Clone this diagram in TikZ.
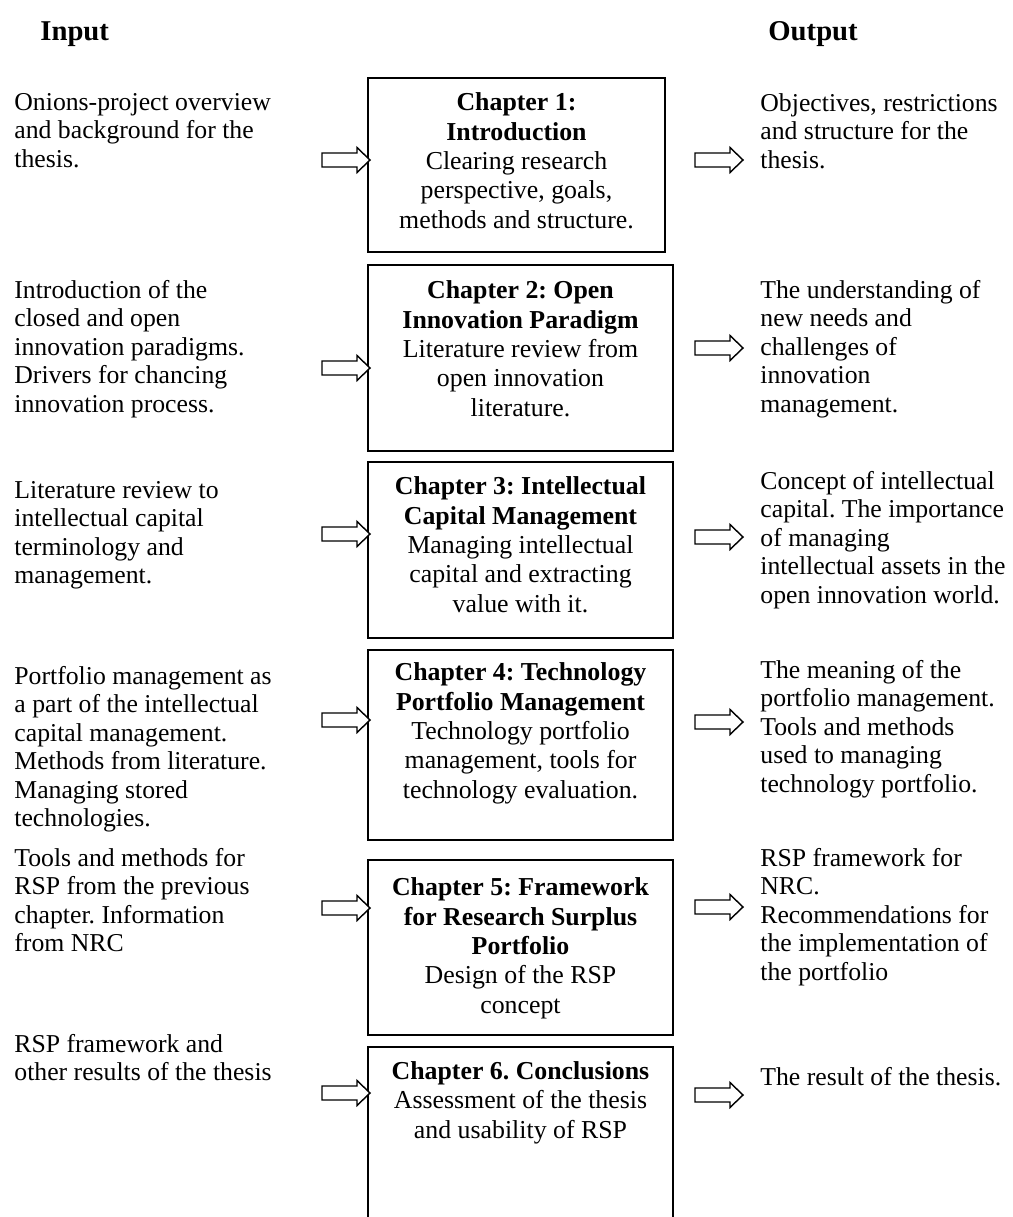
\documentclass[tikz,border=0pt]{standalone}
\usepackage{fontspec}
\setmainfont{Liberation Serif}
\frenchspacing
\begin{document}
\begin{tikzpicture}[x=0.4878pt,y=-0.4878pt,
  % multi-line nodes are placed by the baseline of their last line
  sidetext/.style={anchor=base west,inner sep=0pt,align=left,
    font=\fontsize{12.55}{13.9}\selectfont},
  chaptext/.style={anchor=base,inner sep=0pt,align=center,
    font=\fontsize{12.6}{14.3}\selectfont},
  heading/.style={anchor=base west,inner sep=0pt,
    font=\fontsize{14}{16}\selectfont\bfseries},
  chapframe/.style={draw=black,line width=1pt},
  blockarrow/.style={draw=black,line width=0.7pt,fill=white,line join=miter}]

\useasboundingbox (0,0) rectangle (1013,1217);

% right-pointing outline arrow: tip x, centre y
\newcommand\outlinearrow[2]{%
  \draw[blockarrow] (#1-48,#2-7) -- (#1-13,#2-7) -- (#1-13,#2-12.5) -- (#1,#2)
    -- (#1-13,#2+12.5) -- (#1-13,#2+7) -- (#1-48,#2+7) -- cycle;}

% column headings
\node[heading] (hin) at (40,40) {Input};
\node[heading] (hout) at (768,40) {Output};

% chapter frames
\draw[chapframe] (368,78) rectangle (665,252);
\draw[chapframe] (368,265) rectangle (673,451);
\draw[chapframe] (368,462) rectangle (673,638);
\draw[chapframe] (368,650) rectangle (673,840);
\draw[chapframe] (368,860) rectangle (673,1035);
\draw[chapframe] (368,1217) -- (368,1047) -- (673,1047) -- (673,1217);

% chapter contents
\node[chaptext] (c1) at (516.5,228) {\textbf{Chapter 1:}\\\textbf{Introduction}\\Clearing research\\perspective, goals,\\methods and structure.};
\node[chaptext] (c2) at (520.5,416) {\textbf{Chapter 2: Open}\\\textbf{Innovation Paradigm}\\Literature review from\\open innovation\\literature.};
\node[chaptext] (c3) at (520.5,612) {\textbf{Chapter 3: Intellectual}\\\textbf{Capital Management}\\Managing intellectual\\capital and extracting\\value with it.};
\node[chaptext] (c4) at (520.5,798) {\textbf{Chapter 4: Technology}\\\textbf{Portfolio Management}\\Technology portfolio\\management, tools for\\technology evaluation.};
\node[chaptext] (c5) at (520.5,1013) {\textbf{Chapter 5: Framework}\\\textbf{for Research Surplus}\\\textbf{Portfolio}\\Design of the RSP\\concept};
\node[chaptext] (c6) at (520.5,1138) {\textbf{Chapter 6. Conclusions}\\Assessment of the thesis\\and usability of RSP};

% inputs
\node[sidetext] (i1) at (14,167) {Onions-project overview\\and background for the\\thesis.};
\node[sidetext] (i2) at (14,412) {Introduction of the\\closed and open\\innovation paradigms.\\Drivers for chancing\\innovation process.};
\node[sidetext] (i3) at (14,583.5) {Literature review to\\intellectual capital\\terminology and\\management.};
\node[sidetext] (i4) at (14,826.5) {Portfolio management as\\a part of the intellectual\\capital management.\\Methods from literature.\\Managing stored\\technologies.};
\node[sidetext] (i5) at (14,951.5) {Tools and methods for\\RSP from the previous\\chapter. Information\\from NRC};
\node[sidetext] (i6) at (14,1080.5) {RSP framework and\\other results of the thesis};

% outputs
\node[sidetext] (o1) at (760,168) {Objectives, restrictions\\and structure for the\\thesis.};
\node[sidetext] (o2) at (760,412) {The understanding of\\new needs and\\challenges of\\innovation\\management.};
\node[sidetext] (o3) at (760,603) {Concept of intellectual\\capital. The importance\\of managing\\intellectual assets in the\\open innovation world.};
\node[sidetext] (o4) at (760,792) {The meaning of the\\portfolio management.\\Tools and methods\\used to managing\\technology portfolio.};
\node[sidetext] (o5) at (760,980) {RSP framework for\\NRC.\\Recommendations for\\the implementation of\\the portfolio};
\node[sidetext] (o6) at (760,1085) {The result of the thesis.};

% arrows into the chapters
\outlinearrow{370}{160}
\outlinearrow{370}{368}
\outlinearrow{370}{534}
\outlinearrow{370}{720}
\outlinearrow{370}{908}
\outlinearrow{370}{1093}

% arrows out of the chapters
\outlinearrow{743}{160}
\outlinearrow{743}{348}
\outlinearrow{743}{537}
\outlinearrow{743}{722}
\outlinearrow{743}{907}
\outlinearrow{743}{1095}
\end{tikzpicture}
\end{document}
